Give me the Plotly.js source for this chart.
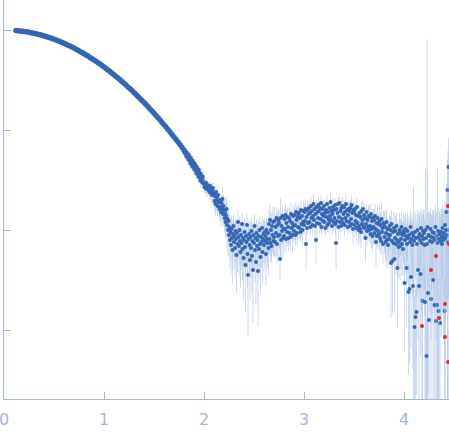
<!DOCTYPE html>
<html>
<head>
<meta charset="utf-8">
<script src="https://cdn.plot.ly/plotly-3.0.1.min.js"></script>
<style>html,body{margin:0;padding:0;background:#fff;}#chart{width:449px;height:437px;}</style>
</head>
<body>
<div id="chart"></div>
<script>
// Scattering vector q (1/nm) and log10 of intensity, with relative errors
const qLow = [0.12,0.14,0.16,0.18,0.20,0.22,0.24,0.26,0.28,0.30,
0.32,0.34,0.36,0.38,0.40,0.42,0.44,0.46,0.48,0.50,
0.52,0.54,0.56,0.58,0.60,0.62,0.64,0.66,0.68,0.70,
0.72,0.74,0.76,0.78,0.80,0.82,0.84,0.86,0.88,0.90,
0.92,0.94,0.96,0.98,1.00,1.02,1.04,1.06,1.08,1.10,
1.12,1.14,1.16,1.18,1.20,1.22,1.24,1.26,1.28,1.30,
1.32,1.34,1.36,1.38,1.40,1.42,1.44,1.46,1.48,1.50,
1.52,1.54,1.56,1.58,1.60,1.62,1.64,1.66,1.68,1.70,
1.72,1.74,1.76,1.78];
const logILow = [-0.005,-0.007,-0.010,-0.012,-0.015,-0.018,-0.021,-0.025,-0.029,-0.033,
-0.038,-0.043,-0.048,-0.053,-0.059,-0.065,-0.072,-0.078,-0.085,-0.093,
-0.100,-0.108,-0.116,-0.124,-0.133,-0.142,-0.152,-0.161,-0.171,-0.181,
-0.192,-0.203,-0.214,-0.225,-0.237,-0.249,-0.261,-0.274,-0.287,-0.300,
-0.313,-0.327,-0.341,-0.355,-0.370,-0.385,-0.400,-0.416,-0.432,-0.448,
-0.464,-0.481,-0.498,-0.515,-0.533,-0.551,-0.569,-0.587,-0.606,-0.625,
-0.645,-0.664,-0.684,-0.705,-0.725,-0.746,-0.767,-0.789,-0.810,-0.832,
-0.855,-0.877,-0.900,-0.924,-0.947,-0.971,-0.995,-1.020,-1.044,-1.069,
-1.095,-1.120,-1.146,-1.172];
const relErrLow = [.004,.004,.004,.004,.005,.005,.005,.005,.005,.005,
.006,.006,.006,.006,.007,.007,.007,.007,.008,.008,
.008,.009,.009,.009,.01,.01,.01,.011,.011,.012,
.012,.012,.013,.013,.014,.014,.015,.015,.016,.016,
.017,.017,.018,.018,.019,.02,.02,.021,.022,.022,
.023,.024,.025,.025,.026,.027,.028,.029,.03,.031,
.032,.033,.034,.035,.036,.038,.039,.04,.042,.043,
.045,.046,.048,.05,.052,.054,.056,.058,.06,.062,
.065,.068,.07,.073];

const qMid = [1.80,1.81,1.82,1.83,1.84,1.85,1.86,1.87,1.88,1.89,
1.90,1.91,1.92,1.93,1.94,1.95,1.96,1.97,1.98,1.99];
const logIMid = [-1.20,-1.22,-1.23,-1.26,-1.25,-1.29,-1.28,-1.33,-1.31,-1.36,
-1.34,-1.39,-1.37,-1.43,-1.40,-1.46,-1.44,-1.50,-1.47,-1.52];
const relErrMid = [.08,.1,.07,.11,.09,.12,.08,.13,.1,.12,
.09,.14,.11,.13,.1,.15,.12,.16,.11,.14];

const qHigh = [
2,2.005,2.01,2.015,2.02,2.025,2.03,2.035,2.04,2.045,
2.05,2.055,2.06,2.065,2.07,2.075,2.08,2.085,2.09,2.095,
2.1,2.105,2.11,2.115,2.12,2.125,2.13,2.135,2.14,2.145,
2.15,2.155,2.16,2.165,2.17,2.175,2.18,2.185,2.19,2.195,
2.2,2.205,2.21,2.215,2.22,2.225,2.23,2.235,2.24,2.245,
2.25,2.255,2.26,2.265,2.27,2.275,2.28,2.285,2.29,2.295,
2.3,2.305,2.31,2.315,2.32,2.325,2.33,2.335,2.34,2.345,
2.35,2.355,2.36,2.365,2.37,2.375,2.38,2.385,2.39,2.395,
2.4,2.405,2.41,2.415,2.42,2.425,2.43,2.435,2.44,2.445,
2.45,2.455,2.46,2.465,2.47,2.475,2.48,2.485,2.49,2.495,
2.5,2.505,2.51,2.515,2.52,2.525,2.53,2.535,2.54,2.545,
2.55,2.555,2.56,2.565,2.57,2.575,2.58,2.585,2.59,2.595,
2.6,2.605,2.61,2.615,2.62,2.625,2.63,2.635,2.64,2.645,
2.65,2.655,2.66,2.665,2.67,2.675,2.68,2.685,2.69,2.695,
2.7,2.705,2.71,2.715,2.72,2.725,2.73,2.735,2.74,2.745,
2.75,2.755,2.76,2.765,2.77,2.775,2.78,2.785,2.79,2.795,
2.8,2.805,2.81,2.815,2.82,2.825,2.83,2.835,2.84,2.845,
2.85,2.855,2.86,2.865,2.87,2.875,2.88,2.885,2.89,2.895,
2.9,2.905,2.91,2.915,2.92,2.925,2.93,2.935,2.94,2.945,
2.95,2.955,2.96,2.965,2.97,2.975,2.98,2.985,2.99,2.995,
3,3.005,3.01,3.015,3.02,3.025,3.03,3.035,3.04,3.045,
3.05,3.055,3.06,3.065,3.07,3.075,3.08,3.085,3.09,3.095,
3.1,3.105,3.11,3.115,3.12,3.125,3.13,3.135,3.14,3.145,
3.15,3.155,3.16,3.165,3.17,3.175,3.18,3.185,3.19,3.195,
3.2,3.205,3.21,3.215,3.22,3.225,3.23,3.235,3.24,3.245,
3.25,3.255,3.26,3.265,3.27,3.275,3.28,3.285,3.29,3.295,
3.3,3.305,3.31,3.315,3.32,3.325,3.33,3.335,3.34,3.345,
3.35,3.355,3.36,3.365,3.37,3.375,3.38,3.385,3.39,3.395,
3.4,3.405,3.41,3.415,3.42,3.425,3.43,3.435,3.44,3.445,
3.45,3.455,3.46,3.465,3.47,3.475,3.48,3.485,3.49,3.495,
3.5,3.505,3.51,3.515,3.52,3.525,3.53,3.535,3.54,3.545,
3.55,3.555,3.56,3.565,3.57,3.575,3.58,3.585,3.59,3.595,
3.6,3.605,3.61,3.615,3.62,3.625,3.63,3.635,3.64,3.645,
3.65,3.655,3.66,3.665,3.67,3.675,3.68,3.685,3.69,3.695,
3.7,3.705,3.71,3.715,3.72,3.725,3.73,3.735,3.74,3.745,
3.75,3.755,3.76,3.765,3.77,3.775,3.78,3.785,3.79,3.795,
3.8,3.805,3.81,3.815,3.82,3.825,3.83,3.835,3.84,3.845,
3.85,3.855,3.86,3.865,3.87,3.875,3.88,3.885,3.89,3.895,
3.9,3.905,3.91,3.915,3.92,3.925,3.93,3.935,3.94,3.945,
3.95,3.955,3.96,3.965,3.97,3.975,3.98,3.985,3.99,3.995,
4,4.005,4.01,4.015,4.02,4.025,4.03,4.035,4.04,4.045,
4.05,4.055,4.06,4.065,4.07,4.075,4.08,4.085,4.09,4.095,
4.1,4.105,4.11,4.115,4.12,4.125,4.13,4.135,4.14,4.145,
4.15,4.155,4.16,4.165,4.17,4.175,4.18,4.185,4.19,4.195,
4.2,4.205,4.21,4.215,4.22,4.225,4.23,4.235,4.24,4.245,
4.25,4.255,4.26,4.265,4.27,4.275,4.28,4.285,4.29,4.295,
4.3,4.305,4.31,4.315,4.32,4.325,4.33,4.335,4.34,4.345,
4.35,4.355,4.36,4.365,4.37,4.375,4.38,4.385,4.39,4.395,
4.4,4.405,4.41,4.415,4.42,4.425,4.43,4.435,4.44,4.445,
4.45];
const logIHigh = [
-1.54,-1.57,-1.55,-1.58,-1.53,-1.56,-1.59,-1.55,-1.57,-1.60,
-1.58,-1.62,-1.56,-1.60,-1.63,-1.59,-1.65,-1.61,-1.58,-1.64,
-1.64,-1.71,-1.66,-1.74,-1.62,-1.70,-1.67,-1.76,-1.65,-1.72,
-1.72,-1.79,-1.70,-1.77,-1.82,-1.73,-1.78,-1.69,-1.84,-1.76,
-1.80,-1.88,-1.83,-1.92,-1.86,-1.79,-1.95,-1.89,-2.00,-1.91,
-2.05,-1.97,-2.10,-2.02,-2.15,-1.99,-2.08,-2.20,-2.04,-1.96,
-2.12,-2.06,-2.18,-2.01,-2.09,-2.25,-2.03,-2.14,-1.92,-2.07,
-2.16,-2.00,-2.11,-2.22,-2.05,-2.13,-1.94,-2.19,-2.08,-2.28,
-2.10,-2.02,-2.17,-2.35,-2.06,-2.12,-1.95,-2.24,-2.45,-2.09,
-2.04,-2.15,-2.30,-2.07,-2.18,-2.01,-2.26,-2.11,-2.40,-2.05,
-2.13,-1.96,-2.20,-2.08,-2.32,-2.03,-2.16,-2.10,-2.41,-2.06,
-2.19,-2.00,-2.14,-2.27,-2.07,-2.12,-1.98,-2.22,-2.09,-2.04,
-2.15,-2.02,-2.11,-2.06,-2.24,-2.00,-2.09,-2.13,-2.03,-2.18,
-1.94,-2.09,-1.90,-2.13,-2.00,-2.16,-1.96,-2.05,-1.92,-2.11,
-2.07,-1.91,-2.12,-1.97,-2.03,-1.88,-2.14,-1.95,-2.06,-1.90,
-1.93,-2.05,-2.29,-1.88,-2.10,-1.96,-2.01,-1.86,-2.08,-1.99,
-2.06,-1.89,-1.99,-1.85,-2.09,-1.93,-2.02,-1.87,-1.97,-2.08,
-1.88,-2.03,-1.91,-2.07,-1.84,-1.98,-1.93,-2.05,-1.86,-1.96,
-2.01,-1.85,-1.95,-2.05,-1.82,-1.90,-2.03,-1.87,-1.97,-1.84,
-1.83,-1.98,-1.88,-2.02,-1.80,-1.94,-1.86,-2.00,-1.92,-1.81,
-1.95,-1.82,-1.91,-1.79,-2.14,-1.87,-1.98,-1.80,-1.93,-1.84,
-1.78,-1.92,-1.83,-1.97,-1.76,-1.88,-1.81,-1.95,-1.86,-1.74,
-1.90,-1.79,-1.96,-1.84,-2.10,-1.77,-1.93,-1.82,-1.88,-1.75,
-1.81,-1.94,-1.78,-1.89,-1.73,-1.97,-1.84,-1.79,-1.91,-1.86,
-1.76,-1.92,-1.83,-1.98,-1.80,-1.87,-1.74,-1.95,-1.82,-1.89,
-1.93,-1.78,-1.86,-1.72,-1.90,-1.81,-1.96,-1.84,-1.77,-1.92,
-1.80,-1.88,-1.75,-1.94,-2.13,-1.79,-1.91,-1.83,-1.74,-1.97,
-1.87,-1.73,-1.92,-1.81,-1.96,-1.78,-1.89,-1.76,-1.93,-1.84,
-1.77,-1.95,-1.82,-1.88,-1.74,-1.91,-1.80,-1.97,-1.85,-1.79,
-1.92,-1.81,-1.96,-1.78,-1.89,-1.75,-1.94,-1.83,-1.99,-1.80,
-1.82,-1.95,-1.79,-1.91,-1.85,-1.98,-1.77,-1.93,-1.86,-2.00,
-1.96,-1.83,-1.99,-1.87,-2.02,-1.81,-1.94,-1.90,-1.79,-1.97,
-1.85,-1.98,-1.88,-2.08,-1.94,-1.82,-2.01,-1.90,-1.97,-1.86,
-2.00,-1.87,-1.96,-2.04,-1.84,-1.99,-1.91,-2.06,-1.88,-1.97,
-1.90,-2.03,-1.86,-1.99,-2.12,-1.93,-2.06,-1.88,-2.01,-1.94,
-2.04,-1.91,-2.08,-1.95,-2.11,-1.89,-2.02,-1.98,-2.14,-1.93,
-1.94,-2.07,-1.97,-2.12,-2.03,-1.92,-2.10,-1.99,-2.15,-2.05,
-2.09,-1.96,-2.05,-2.00,-2.33,-1.94,-2.11,-2.31,-2.02,-2.13,
-1.98,-2.29,-2.08,-2.01,-2.14,-1.96,-2.10,-2.38,-2.04,-2.17,
-2.12,-2.00,-2.16,-2.03,-2.09,-1.97,-2.14,-2.05,-2.19,-2.01,
-2.03,-2.53,-2.10,-1.99,-2.06,-2.38,-2.14,-2.01,-2.08,-2.62,
-2.05,-2.59,-2.12,-1.97,-2.47,-2.09,-2.03,-2.15,-2.56,-2.06,
-2.11,-2.97,-2.02,-2.87,-2.08,-2.82,-2.14,-2.00,-2.40,-2.07,
-2.56,-2.04,-2.10,-2.44,-1.98,-2.13,-2.06,-2.71,-2.01,-2.09,
-2.03,-2.15,-2.72,-2.00,-2.08,-3.26,-2.14,-1.97,-2.63,-2.05,
-2.90,-2.06,-2.11,-1.99,-2.69,-2.07,-2.12,-2.02,-2.50,-2.08,
-2.03,-2.75,-2.10,-1.97,-2.91,-2.06,-2.75,-2.13,-2.01,-2.81,
-2.09,-2.04,-2.93,-2.11,-2.02,-2.07,-2.14,-1.98,-2.06,-2.10,
-2.03,-2.81,-1.95,-2.08,-2.00,-1.82,-2.05,-1.60,-2.12,-1.37,
-2.00];
const relErrHigh = [
.1,.13,.09,.15,.11,.14,.17,.1,.14,.12,
.13,.17,.11,.15,.19,.14,.21,.16,.12,.19,
.17,.22,.15,.25,.19,.23,.17,.21,.27,.19,
.21,.25,.19,.24,.29,.22,.27,.32,.23,.28,
.3,.26,.35,.3,.38,.32,.42,.34,.45,.36,
.4,.34,.46,.38,.5,.36,.42,.54,.39,.32,
.46,.38,.5,.34,.42,.58,.37,.48,.32,.4,
.5,.35,.44,.56,.39,.47,.3,.52,.42,.62,
.44,.37,.5,.66,.4,.46,.32,.55,.75,.42,
.39,.48,.6,.42,.5,.35,.58,.45,.7,.39,
.46,.32,.52,.42,.63,.38,.48,.44,.72,.4,
.5,.35,.46,.56,.4,.45,.34,.52,.42,.38,
.46,.35,.42,.39,.52,.34,.4,.44,.35,.47,
.38,.3,.42,.35,.45,.32,.39,.34,.42,.3,
.35,.39,.3,.34,.42,.29,.37,.32,.4,.3,
.34,.27,.38,.6,.3,.35,.27,.32,.37,.29,
.3,.34,.25,.3,.27,.37,.29,.24,.32,.25,
.27,.24,.32,.25,.29,.22,.27,.34,.24,.28,
.24,.25,.29,.21,.25,.3,.22,.27,.24,.2,
.24,.21,.27,.19,.23,.25,.2,.29,.22,.25,
.2,.24,.19,.25,.46,.21,.17,.24,.2,.25,
.19,.17,.22,.18,.24,.2,.16,.22,.19,.23,
.2,.17,.25,.19,.42,.16,.22,.19,.15,.21,
.18,.2,.16,.24,.19,.15,.21,.17,.22,.2,
.17,.22,.19,.14,.2,.18,.24,.16,.2,.17,
.21,.16,.19,.25,.15,.2,.18,.17,.23,.19,
.16,.2,.18,.22,.46,.19,.14,.2,.17,.24,
.19,.15,.21,.17,.14,.2,.16,.23,.18,.2,
.17,.21,.19,.16,.24,.18,.2,.15,.22,.18,
.2,.23,.17,.2,.19,.25,.2,.21,.29,.18,
.21,.25,.19,.23,.2,.27,.22,.18,.24,.29,
.23,.2,.26,.21,.32,.24,.2,.28,.22,.25,
.27,.21,.24,.42,.25,.22,.3,.25,.23,.29,
.24,.31,.26,.22,.28,.36,.25,.3,.24,.32,
.28,.25,.34,.27,.44,.3,.25,.35,.3,.26,
.31,.38,.28,.34,.27,.47,.32,.3,.36,.31,
.36,.31,.41,.34,.53,.32,.38,.3,.42,.36,
.4,.34,.47,.38,.72,.36,.42,.7,.39,.34,
.45,.7,.4,.42,.5,.38,.48,.75,.4,.5,
.42,.46,.55,.4,.5,.44,.52,.38,.46,.5,
.5,.8,.55,.45,.52,.75,.6,.5,.56,.85,
.55,.82,.65,.5,.8,.6,.58,.7,.85,2.1,
.7,1.05,.65,.9,.75,.85,.7,.6,.8,.72,
.95,.68,.75,.85,.6,.8,.7,1.1,.65,.78,
.72,.8,1.2,3.2,.75,1.3,111,2.5,.9,.7,
1.2,.75,.8,.65,.95,.7,.85,.66,1.05,.8,
.72,1.1,.8,.68,1.2,.75,.95,4.5,.7,1.1,
.8,.7,1.25,.85,.72,.9,.78,.68,.82,.9,
.75,1.15,.7,.85,.8,.9,.78,1.0,7.3,.95,
.8];

// Flagged points drawn in red
const qRed = [4.18,4.27,4.32,4.35,4.41,4.41,4.44,4.44,4.45];
const logIRed = [-2.96,-2.40,-2.26,-2.88,-2.74,-3.07,-3.32,-1.76,-2.14];
const relErrRed = [.9,.8,.85,.95,.8,1.0,1.1,.7,.8];

const toI = arr => arr.map(v => Math.pow(10, v));
const toErr = (I, rel) => I.map((v, i) => v * rel[i]);

const ILow = toI(logILow.concat(logIMid));
const errLow = toErr(ILow, relErrLow.concat(relErrMid));
const IHigh = toI(logIHigh);
const errHigh = toErr(IHigh, relErrHigh);
const IRed = toI(logIRed);
const errRed = toErr(IRed, relErrRed);

const axisColor = '#a5b8e0';
const barStyle = {type: 'data', visible: true, color: 'rgba(172,194,230,0.6)', thickness: 1, width: 0};
const traces = [
  {
    x: qLow.concat(qMid), y: ILow, type: 'scatter', mode: 'markers',
    marker: {color: '#3566b5', size: 5.5},
    error_y: Object.assign({array: errLow}, barStyle),
    hoverinfo: 'skip', showlegend: false
  },
  {
    x: qHigh, y: IHigh, type: 'scatter', mode: 'markers',
    marker: {color: '#3566b5', size: 4},
    error_y: Object.assign({array: errHigh}, barStyle),
    hoverinfo: 'skip', showlegend: false
  },
  {
    x: qRed, y: IRed, type: 'scatter', mode: 'markers',
    marker: {color: '#e8262b', size: 4},
    error_y: Object.assign({array: errRed}, barStyle),
    hoverinfo: 'skip', showlegend: false
  }
];
const layout = {
  width: 449, height: 437,
  margin: {l: 4, r: 0, t: 0, b: 38, pad: 0},
  paper_bgcolor: '#fff', plot_bgcolor: '#fff',
  showlegend: false,
  xaxis: {
    range: [0, 4.45], tickvals: [0, 1, 2, 3, 4], ticktext: ['0', '1', '2', '3', '4'],
    showgrid: false, zeroline: false, showline: true, linecolor: axisColor, linewidth: 1,
    ticks: 'inside', ticklen: 7, tickcolor: axisColor, tickwidth: 1,
    tickfont: {family: 'DejaVu Sans', size: 16, color: axisColor}, ticklabelstandoff: 6,
    ticklabeloverflow: 'allow'
  },
  yaxis: {
    type: 'log', range: [-3.69, 0.30], tickvals: [1, 0.1, 0.01, 0.001],
    showgrid: false, zeroline: false, showline: true, linecolor: axisColor, linewidth: 1,
    ticks: 'inside', ticklen: 7, tickcolor: axisColor, tickwidth: 1,
    showticklabels: false
  }
};
Plotly.newPlot('chart', traces, layout, {staticPlot: true, displayModeBar: false});
</script>
</body>
</html>
